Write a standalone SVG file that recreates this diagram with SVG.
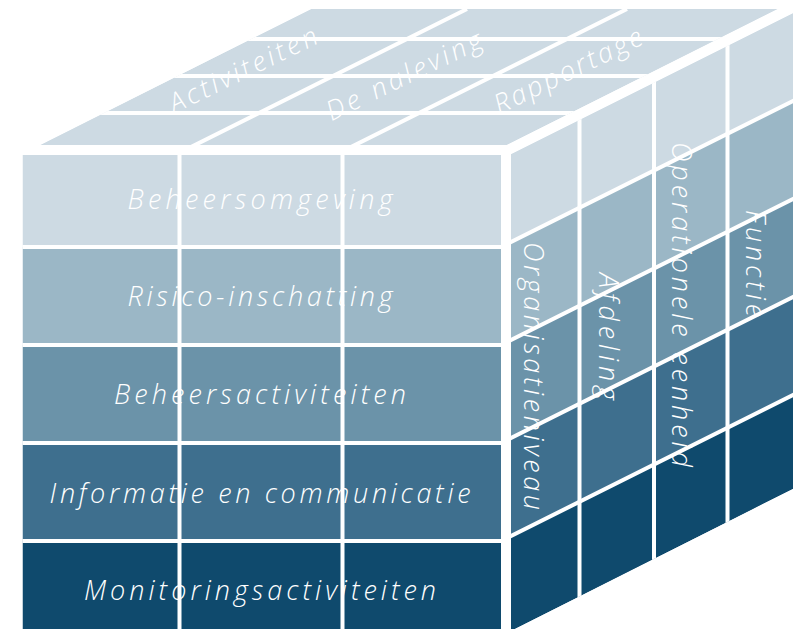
<svg xmlns="http://www.w3.org/2000/svg" width="810" height="629" viewBox="0 0 810 629">
  <style>
    .lbl { font-family: "Open Sans", "DejaVu Sans", sans-serif; font-style: italic; font-weight: 300; font-size: 27px; fill: #ffffff; }
    .grid { stroke: #ffffff; stroke-width: 4; fill: none; }
    .c1 { fill: #cddae3; }
    .c2 { fill: #9bb7c6; }
    .c3 { fill: #6b93a9; }
    .c4 { fill: #3e6f8e; }
    .c5 { fill: #0f4a6d; }
  </style>
  <defs>
    <clipPath id="clip-top"><polygon points="40,145 507,145 778,9 311,9"/></clipPath>
    <clipPath id="clip-right"><polygon points="511,154 793,13 793,489 511,631"/></clipPath>
    <clipPath id="clip-front"><rect x="22.5" y="155" width="478.5" height="480"/></clipPath>
  </defs>
  <rect x="0" y="0" width="810" height="629" fill="#ffffff"/>

  <!-- TOP FACE -->
  <g id="top-face">
    <g clip-path="url(#clip-top)">
      <polygon class="c1" points="40,145 507,145 778,9 311,9"/>
      <g class="grid">
        <line x1="0" y1="39" x2="810" y2="39"/>
        <line x1="0" y1="76" x2="810" y2="76"/>
        <line x1="0" y1="113" x2="810" y2="113"/>
        <line x1="187" y1="149" x2="467" y2="9"/>
        <line x1="347" y1="149" x2="627" y2="9"/>
      </g>
    </g>
    <g id="top-activiteiten"><text class="lbl" x="247" y="78" text-anchor="middle" textLength="162" lengthAdjust="spacing" transform="rotate(-26 247 78)">Activiteiten</text></g>
    <g id="top-naleving"><text class="lbl" x="408" y="84" text-anchor="middle" textLength="170" lengthAdjust="spacing" transform="rotate(-26 408 84)">De naleving</text></g>
    <g id="top-rapportage"><text class="lbl" x="572" y="79" text-anchor="middle" textLength="162" lengthAdjust="spacing" transform="rotate(-26 572 79)">Rapportage</text></g>
  </g>

  <!-- RIGHT FACE -->
  <g id="right-face">
    <g clip-path="url(#clip-right)">
      <polygon class="c1" points="511,154 793,13 793,101 511,242"/>
      <polygon class="c2" points="511,242 793,101 793,199 511,340"/>
      <polygon class="c3" points="511,340 793,199 793,297 511,438"/>
      <polygon class="c4" points="511,438 793,297 793,395 511,536"/>
      <polygon class="c5" points="511,536 793,395 793,489 511,631"/>
      <g class="grid">
        <line x1="505" y1="245" x2="799" y2="98"/>
        <line x1="505" y1="343" x2="799" y2="196"/>
        <line x1="505" y1="441" x2="799" y2="294"/>
        <line x1="505" y1="539" x2="799" y2="392"/>
        <line x1="579.5" y1="0" x2="579.5" y2="629"/>
        <line x1="654" y1="0" x2="654" y2="629"/>
        <line x1="727.5" y1="0" x2="727.5" y2="629"/>
      </g>
    </g>
    <g id="side-organisatieniveau"><text class="lbl" x="524" y="242" textLength="268" lengthAdjust="spacing" transform="rotate(90 524 242)">Organisatieniveau</text></g>
    <g id="side-afdeling"><text class="lbl" x="599" y="273" textLength="127" lengthAdjust="spacing" transform="rotate(90 599 273)">Afdeling</text></g>
    <g id="side-operationele-eenheid"><text class="lbl" x="672" y="142" textLength="325" lengthAdjust="spacing" transform="rotate(90 672 142)">Operationele eenheid</text></g>
    <g id="side-functie"><text class="lbl" x="746" y="210" textLength="107" lengthAdjust="spacing" transform="rotate(90 746 210)">Functie</text></g>
  </g>

  <!-- FRONT FACE -->
  <g id="front-face">
    <g clip-path="url(#clip-front)">
      <g id="row-beheersomgeving"><rect class="c1" x="22.5" y="155" width="478.5" height="92"/></g>
      <g id="row-risico-inschatting"><rect class="c2" x="22.5" y="247" width="478.5" height="98"/></g>
      <g id="row-beheersactiviteiten"><rect class="c3" x="22.5" y="345" width="478.5" height="98"/></g>
      <g id="row-informatie"><rect class="c4" x="22.5" y="443" width="478.5" height="98"/></g>
      <g id="row-monitoring"><rect class="c5" x="22.5" y="541" width="478.5" height="100"/></g>
      <g class="grid">
        <line x1="20" y1="247" x2="503" y2="247"/>
        <line x1="20" y1="345" x2="503" y2="345"/>
        <line x1="20" y1="443" x2="503" y2="443"/>
        <line x1="20" y1="541" x2="503" y2="541"/>
        <line x1="179.5" y1="150" x2="179.5" y2="629"/>
        <line x1="342.5" y1="150" x2="342.5" y2="629"/>
      </g>
    </g>
    <text class="lbl" x="260" y="209" text-anchor="middle" textLength="265" lengthAdjust="spacing">Beheersomgeving</text>
    <text class="lbl" x="260" y="306" text-anchor="middle" textLength="265" lengthAdjust="spacing">Risico-inschatting</text>
    <text class="lbl" x="260" y="404" text-anchor="middle" textLength="292" lengthAdjust="spacing">Beheersactiviteiten</text>
    <text class="lbl" x="260" y="503" text-anchor="middle" textLength="421" lengthAdjust="spacing">Informatie en communicatie</text>
    <text class="lbl" x="260" y="600" text-anchor="middle" textLength="352" lengthAdjust="spacing">Monitoringsactiviteiten</text>
  </g>

  <g id="connectors"/>
</svg>
